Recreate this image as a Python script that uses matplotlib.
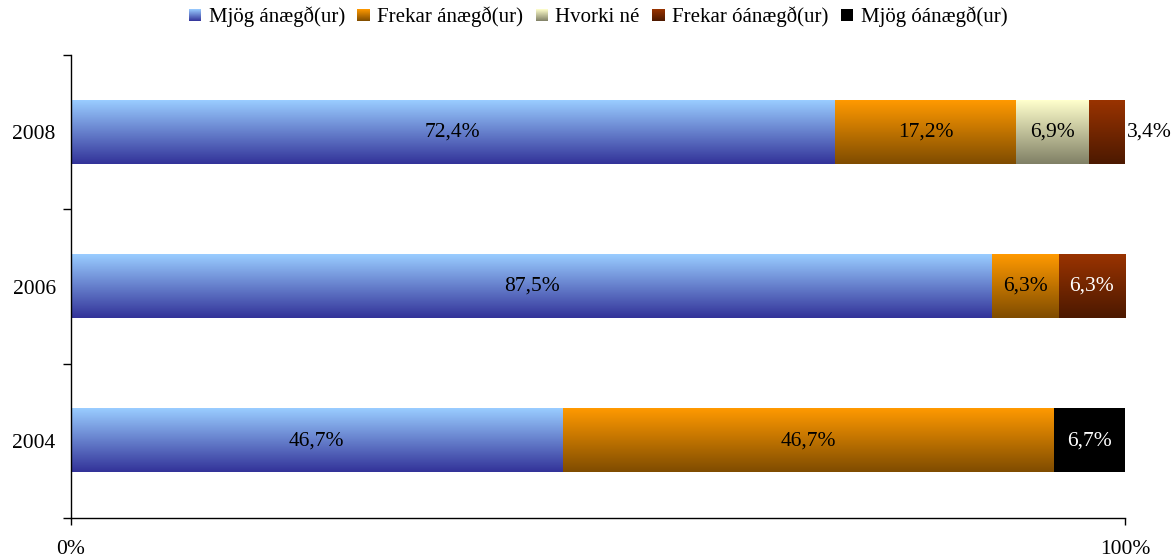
import numpy as np
import matplotlib
matplotlib.use('Agg')
import matplotlib.pyplot as plt
from matplotlib.colors import to_rgb
from matplotlib.patches import Rectangle
from matplotlib.legend_handler import HandlerBase

plt.rcParams['font.family'] = ['Liberation Serif', 'DejaVu Serif']

# data
years = ['2004', '2006', '2008']
series = ['Mjög ánægð(ur)', 'Frekar ánægð(ur)', 'Hvorki né', 'Frekar óánægð(ur)', 'Mjög óánægð(ur)']
mjog_anaegd = [46.7, 87.5, 72.4]
frekar_anaegd = [46.7, 6.3, 17.2]
hvorki_ne = [0.0, 0.0, 6.9]
frekar_oanaegd = [0.0, 6.3, 3.4]
mjog_oanaegd = [6.7, 0.0, 0.0]

values = np.array([mjog_anaegd, frekar_anaegd, hvorki_ne, frekar_oanaegd, mjog_oanaegd])
shares = values / values.sum(axis=0) * 100  # 100% stacked

# gradient colours (top, bottom) and label colour per series
grad = [('#99CCFF', '#333399'),
        ('#FF9900', '#7F4C00'),
        ('#FFFFCC', '#808066'),
        ('#993300', '#4C1900'),
        ('#000000', '#000000')]
label_col = ['black', 'black', 'black', 'white', 'white']
FS = 15.5


def gradient_img(top, bottom, n=64):
    t = np.linspace(0, 1, n)[:, None]
    c = np.array(to_rgb(bottom)) * (1 - t) + np.array(to_rgb(top)) * t
    return c[:, None, :]


class GradientHandler(HandlerBase):
    def __init__(self, top, bottom):
        super().__init__()
        self.top, self.bottom = top, bottom

    def create_artists(self, legend, orig_handle, xdescent, ydescent,
                       width, height, fontsize, trans):
        side = 0.58 * fontsize
        x0 = -xdescent + (width - side) / 2
        y0 = -ydescent + (height - side) / 2
        n = 12
        arts = []
        for i in range(n):
            t = (i + 0.5) / n
            c = np.array(to_rgb(self.bottom)) * (1 - t) + np.array(to_rgb(self.top)) * t
            arts.append(Rectangle((x0, y0 + side * i / n), side, side / n + 0.3,
                                  facecolor=c, edgecolor='none', transform=trans))
        return arts


fig = plt.figure(figsize=(11.76, 5.6), dpi=100)
ax = fig.add_axes([71 / 1176, 42 / 560, 1054 / 1176, 463 / 560])

y = np.arange(len(years))
left = np.zeros(len(years))
handles = []
for k, name in enumerate(series):
    bars = ax.barh(y, shares[k], left=left, height=0.41, color='none',
                   edgecolor='none', label=name)
    handles.append(bars[0])
    img = gradient_img(*grad[k])
    for i, b in enumerate(bars):
        if values[k, i] <= 0:
            continue
        x0, y0 = b.get_x(), b.get_y()
        w, h = b.get_width(), b.get_height()
        ax.imshow(img, extent=(x0, x0 + w, y0, y0 + h), origin='lower',
                  aspect='auto', interpolation='bilinear', zorder=2)
        txt = f'{values[k, i]:.1f}'.replace('.', ',') + '%'
        if w < 5:
            ax.text(x0 + w + 0.15, y[i], txt, ha='left', va='center',
                    fontsize=FS, color='black', zorder=3)
        else:
            ax.text(x0 + w / 2, y[i], txt, ha='center', va='center',
                    fontsize=FS, color=label_col[k], zorder=3)
    left += shares[k]

ax.set_xlim(0, 100)
ax.set_ylim(-0.5, 2.5)

ax.set_xticks([0, 100])
ax.set_xticklabels(['0%', '100%'], fontsize=FS)
ax.tick_params(axis='x', direction='out', length=5, width=1, pad=11)

ax.set_yticks(y)
ax.set_yticklabels(years, fontsize=FS)
ax.tick_params(axis='y', which='major', length=0, pad=11)
ax.set_yticks([-0.5, 0.5, 1.5, 2.5], minor=True)
ax.tick_params(axis='y', which='minor', direction='out', length=6, width=1)

for s in ['top', 'right']:
    ax.spines[s].set_visible(False)
for s in ['left', 'bottom']:
    ax.spines[s].set_linewidth(1)

handler_map = {h: GradientHandler(*grad[k]) for k, h in enumerate(handles)}
fig.legend(handles, series, loc='center', bbox_to_anchor=(598 / 1176, 1 - 17 / 560),
           ncol=5, frameon=False, fontsize=15, handler_map=handler_map,
           handlelength=0.6, handletextpad=0.35, columnspacing=0.6,
           borderaxespad=0, borderpad=0)

fig.savefig('out.png', dpi=100)
